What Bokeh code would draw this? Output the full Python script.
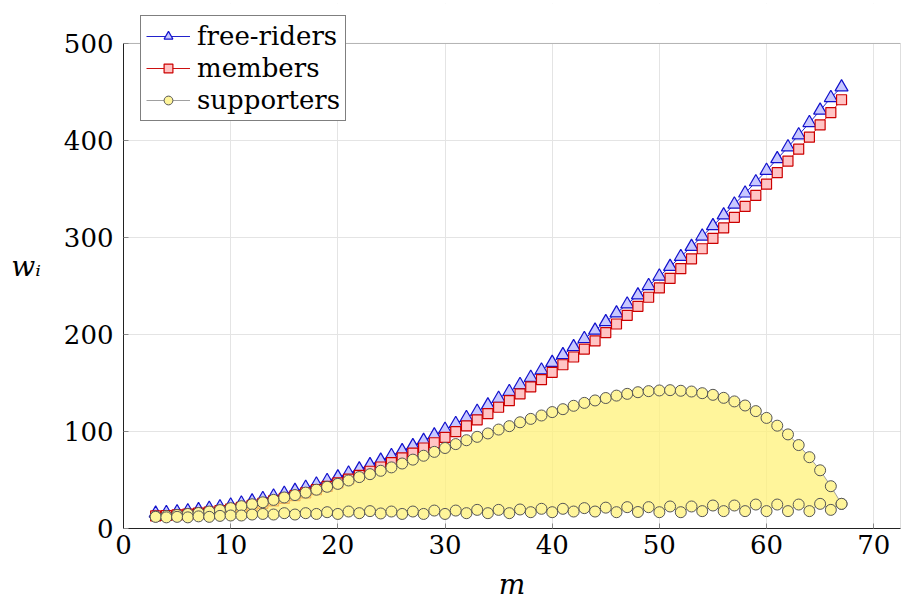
from bokeh.plotting import figure
from bokeh.models import Range1d, FixedTicker, BoxAnnotation
from bokeh.embed import file_html
from bokeh.resources import INLINE

m = list(range(3, 68))

free_riders = [15.6, 16.2, 17.0, 18.0, 19.2, 20.6, 22.2, 24.0, 26.0, 28.2,
               30.6, 33.2, 36.0, 39.0, 42.2, 45.6, 49.2, 53.0, 57.0, 61.2,
               65.6, 70.2, 75.0, 80.0, 85.2, 90.6, 96.2, 102.0, 108.0, 114.2,
               120.6, 127.2, 134.0, 141.0, 148.2, 155.6, 163.2, 171.0, 179.0, 187.2,
               195.6, 204.2, 213.0, 222.0, 231.2, 240.6, 250.2, 260.0, 270.0, 280.2,
               290.6, 301.2, 312.0, 323.0, 334.2, 345.6, 357.2, 369.0, 381.0, 393.2,
               405.6, 418.2, 431.0, 444.0, 455.0]

members = [13.0, 13.4, 14.0, 14.8, 15.8, 17.0, 18.4, 20.0, 21.8, 23.8,
           26.0, 28.4, 31.0, 33.8, 36.8, 40.0, 43.4, 47.0, 50.8, 54.8,
           59.0, 63.4, 68.0, 72.8, 77.8, 83.0, 88.4, 94.0, 99.8, 105.8,
           112.0, 118.4, 125.0, 131.8, 138.8, 146.0, 153.4, 161.0, 168.8, 176.8,
           185.0, 193.4, 202.0, 210.8, 219.8, 229.0, 238.4, 248.0, 257.8, 267.8,
           278.0, 288.4, 299.0, 309.8, 320.8, 332.0, 343.4, 355.0, 366.8, 378.8,
           391.0, 403.4, 416.0, 428.8, 442.0]

supporters_upper = [12.4, 13.0, 14.0, 15.0, 16.0, 17.5, 19.0, 21.0, 23.0, 25.0,
                    27.0, 29.5, 32.0, 34.5, 37.0, 40.0, 43.0, 46.0, 49.5, 53.0,
                    56.0, 59.5, 63.0, 67.0, 71.0, 75.0, 79.0, 83.0, 87.0, 91.0,
                    94.5, 98.0, 102.0, 105.5, 109.5, 113.0, 116.5, 120.0, 123.0, 126.5,
                    129.5, 132.0, 134.5, 137.0, 138.8, 140.5, 141.6, 142.3, 142.6, 142.0,
                    141.2, 139.5, 137.8, 134.7, 131.0, 126.8, 121.0, 114.0, 106.0, 97.0,
                    86.0, 73.5, 60.0, 43.6, 25.4]

supporters_lower = [12.0, 11.5, 12.0, 11.5, 12.5, 12.0, 13.0, 13.4, 13.4, 14.4,
                    15.0, 14.4, 15.8, 14.4, 15.8, 15.0, 16.8, 15.0, 17.5, 15.8,
                    17.9, 15.5, 17.5, 15.0, 17.5, 15.0, 18.5, 15.0, 18.5, 15.8,
                    19.2, 15.8, 19.2, 15.8, 19.6, 16.8, 20.3, 16.8, 20.3, 17.5,
                    21.0, 17.5, 21.5, 16.8, 22.0, 17.0, 22.0, 16.8, 22.7, 16.8,
                    22.7, 17.9, 23.7, 17.9, 23.7, 17.9, 24.7, 17.9, 24.7, 17.9,
                    24.7, 17.9, 25.4, 19.2, 25.4]

x_ticks = [0, 10, 20, 30, 40, 50, 60, 70]
y_ticks = [0, 100, 200, 300, 400, 500]
Y_MAX = 500

FONT = "DejaVu Serif"
FRAME = "#222222"

# the frame is extended upward so that the legend can overlap the top border
p = figure(width=902, height=603, output_backend="svg", toolbar_location=None,
           x_range=Range1d(0, 72.5), y_range=Range1d(0, 541.2),
           min_border_left=123, min_border_right=2, min_border_top=3,
           min_border_bottom=75)

p.outline_line_color = None
for ax in (p.xaxis[0], p.yaxis[0]):
    ax.axis_line_color = FRAME
    ax.major_tick_in = 5
    ax.major_tick_out = 0
    ax.major_tick_line_color = "#888888"
    ax.minor_tick_line_color = None
    ax.major_label_text_font = FONT
    ax.major_label_text_font_size = "26px"
    ax.major_label_text_color = "black"
    ax.axis_label_text_font = FONT
    ax.axis_label_text_font_style = "italic"
    ax.axis_label_text_font_size = "28px"
    ax.axis_label_text_color = "black"
p.xaxis.ticker = FixedTicker(ticks=x_ticks)
p.yaxis.ticker = FixedTicker(ticks=y_ticks)
p.yaxis.bounds = (0, Y_MAX)
p.xaxis.major_label_standoff = 6
p.yaxis.major_label_standoff = 10
p.xaxis.axis_label = "m"
p.xaxis.axis_label_standoff = 11
p.yaxis.axis_label = "wᵢ"
p.yaxis.axis_label_orientation = "horizontal"
p.yaxis.axis_label_standoff = 20

p.xgrid.grid_line_color = "#e4e4e4"
p.ygrid.grid_line_color = "#e4e4e4"
p.xgrid.ticker = FixedTicker(ticks=x_ticks)
p.ygrid.ticker = FixedTicker(ticks=y_ticks)

# blank the area above the top of the axis box, then draw the axis box
p.add_layout(BoxAnnotation(bottom=Y_MAX, fill_color="white", fill_alpha=1,
                           line_color=None, level="underlay"))
p.add_layout(BoxAnnotation(bottom=0, top=Y_MAX, fill_alpha=0, line_color=FRAME,
                           line_width=1, level="underlay"))

# free-riders
p.line(m, free_riders, line_color="#2222cc", line_width=1, legend_label="free-riders")
p.scatter(m, free_riders, marker="triangle", size=13, fill_color="#c8c8ff",
          line_color="#1111cc", line_width=1.2, legend_label="free-riders")

# members
p.line(m, members, line_color="#cc1111", line_width=1, legend_label="members")
p.scatter(m, members, marker="square", size=10, fill_color="#ffc4c4",
          line_color="#cc0000", line_width=1.2, legend_label="members")

# supporters (closed area)
px = m + m[::-1]
py = supporters_upper + supporters_lower[::-1]
p.patch(px, py, fill_color="#fff27a", fill_alpha=0.75, line_color=None)
p.line(px, py, line_color="#a0a0a0", line_width=1, legend_label="supporters")
p.scatter(m + m, supporters_upper + supporters_lower, marker="circle", size=11,
          fill_color="#fff59a", line_color="#555555", line_width=1,
          legend_label="supporters")

lg = p.legend[0]
lg.location = (17, 407)
lg.label_text_font = FONT
lg.label_text_font_size = "26px"
lg.label_text_color = "black"
lg.glyph_width = 44
lg.glyph_height = 22
lg.label_height = 30
lg.label_standoff = 7
lg.padding = 5
lg.spacing = 2
lg.margin = 0
lg.border_line_color = "black"
lg.border_line_width = 1
lg.background_fill_alpha = 1

open("out.html", "w").write(file_html(p, INLINE))
